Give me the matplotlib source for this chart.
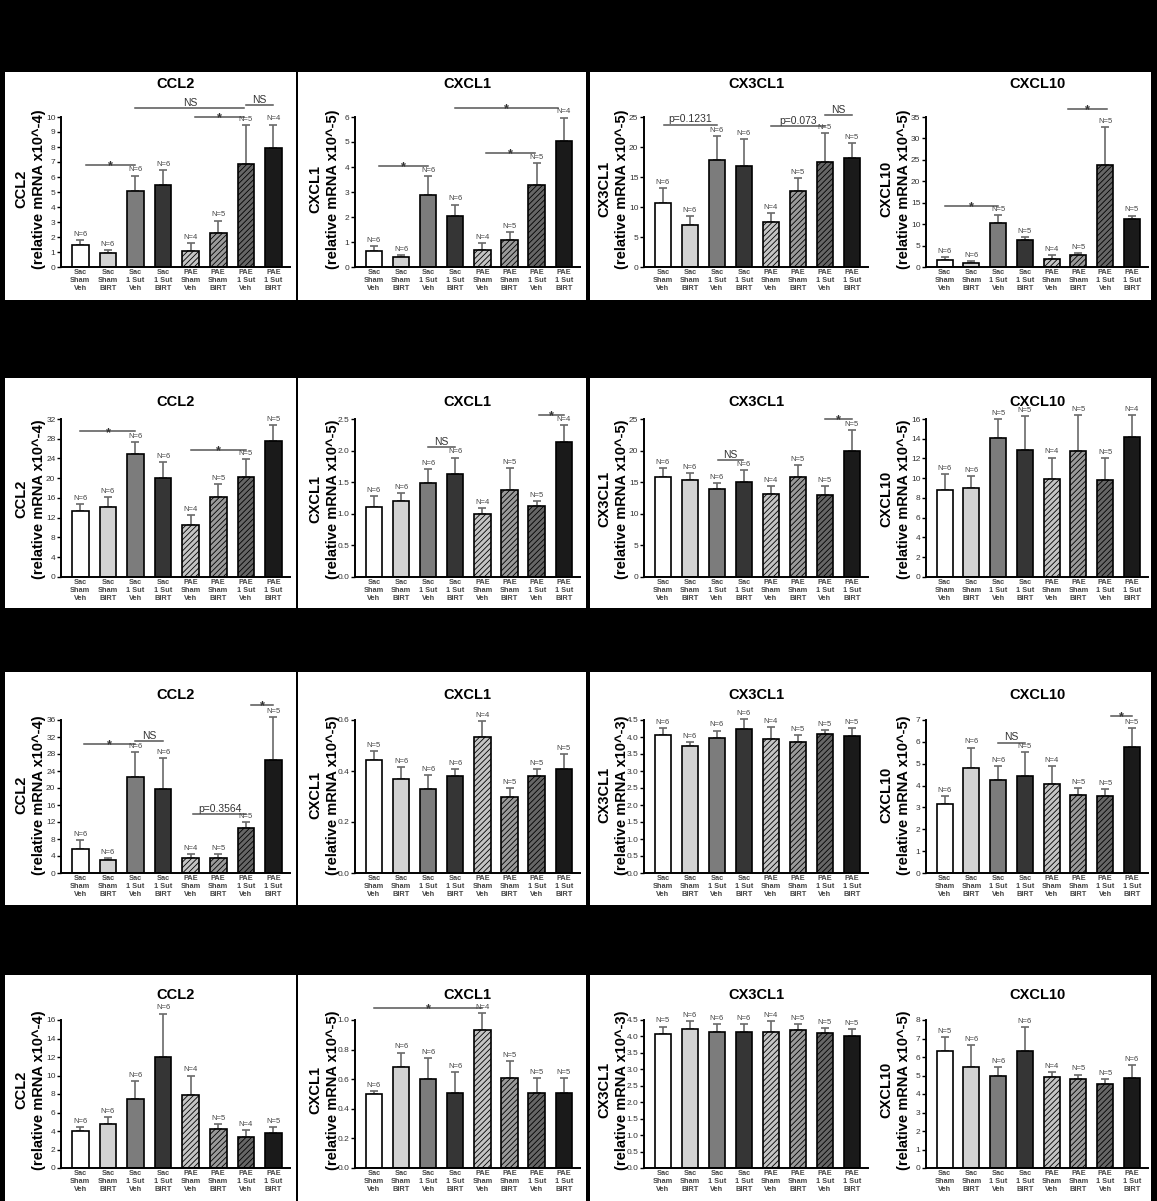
import numpy as np
import matplotlib
matplotlib.use("Agg")
import matplotlib.pyplot as plt
from matplotlib.patches import Rectangle

plt.rcParams['font.family'] = ['Liberation Sans', 'DejaVu Sans']
plt.rcParams['hatch.linewidth'] = 0.6
plt.rcParams['hatch.color'] = 'black'

groups = ["Sac\nSham\nVeh", "Sac\nSham\nBIRT", "Sac\n1 Sut\nVeh", "Sac\n1 Sut\nBIRT",
          "PAE\nSham\nVeh", "PAE\nSham\nBIRT", "PAE\n1 Sut\nVeh", "PAE\n1 Sut\nBIRT"]
genes = ["CCL2", "CXCL1", "CX3CL1", "CXCL10"]

# row 1
r1_ccl2 = [1.5, 0.95, 5.1, 5.45, 1.07, 2.3, 6.86, 7.95]
r1_ccl2_err = [0.3, 0.2, 1.0, 1.0, 0.5, 0.8, 2.6, 1.55]
r1_ccl2_n = [6, 6, 6, 6, 4, 5, 5, 4]
r1_ccl2_sig = [(0.2, 2.0, 6.8, "*"), (2.0, 5.95, 10.6, "NS"),
               (6.0, 7.0, 10.8, "NS"), (4.15, 5.95, 10.0, "*")]

r1_cxcl1 = [0.64, 0.39, 2.9, 2.05, 0.7, 1.08, 3.27, 5.03]
r1_cxcl1_err = [0.2, 0.1, 0.75, 0.45, 0.27, 0.32, 0.9, 0.95]
r1_cxcl1_n = [6, 6, 6, 6, 4, 5, 5, 4]
r1_cxcl1_sig = [(0.2, 2.0, 4.04, "*"), (4.15, 5.95, 4.58, "*"), (3.0, 6.8, 6.35, "*")]

r1_cx3cl1 = [10.6, 6.95, 17.9, 16.8, 7.5, 12.6, 17.5, 18.2]
r1_cx3cl1_err = [2.5, 1.6, 4.0, 4.6, 1.5, 2.3, 4.8, 2.4]
r1_cx3cl1_n = [6, 6, 6, 6, 4, 5, 5, 5]
r1_cx3cl1_sig = [(0.05, 2.0, 23.7, "p=0.1231"), (4.0, 6.0, 23.5, "p=0.073"),
                 (6.0, 7.0, 25.3, "NS")]

r1_cxcl10 = [1.66, 1.05, 10.3, 6.33, 1.8, 2.8, 23.7, 11.2]
r1_cxcl10_err = [0.6, 0.4, 1.8, 0.6, 1.0, 0.5, 9.0, 0.8]
r1_cxcl10_n = [6, 6, 5, 5, 4, 5, 5, 5]
r1_cxcl10_sig = [(0.0, 2.0, 14.3, "*"), (4.6, 6.05, 36.9, "*")]

# row 2
r2_ccl2 = [13.3, 14.15, 24.9, 20.1, 10.6, 16.3, 20.35, 27.6]
r2_ccl2_err = [1.5, 2.0, 2.4, 3.1, 1.9, 2.6, 3.6, 3.1]
r2_ccl2_n = [6, 6, 6, 6, 4, 5, 5, 5]
r2_ccl2_sig = [(0.0, 2.0, 29.5, "*"), (4.0, 6.0, 25.7, "*")]

r2_cxcl1 = [1.11, 1.2, 1.49, 1.63, 1.0, 1.37, 1.13, 2.13]
r2_cxcl1_err = [0.17, 0.13, 0.22, 0.26, 0.09, 0.36, 0.07, 0.27]
r2_cxcl1_n = [6, 6, 6, 6, 4, 5, 5, 4]
r2_cxcl1_sig = [(2.0, 3.0, 2.05, "NS"), (6.1, 7.0, 2.56, "*")]

r2_cx3cl1 = [15.85, 15.4, 13.9, 15.05, 13.1, 15.75, 12.9, 20.0]
r2_cx3cl1_err = [1.35, 1.0, 0.9, 1.85, 1.3, 2.0, 1.5, 3.2]
r2_cx3cl1_n = [6, 6, 6, 6, 4, 5, 5, 5]
r2_cx3cl1_sig = [(2.05, 2.95, 18.5, "NS"), (6.0, 7.0, 25.0, "*")]

r2_cxcl10 = [8.8, 9.06, 14.1, 12.84, 9.9, 12.77, 9.8, 14.2]
r2_cxcl10_err = [1.6, 1.2, 1.9, 3.5, 2.2, 3.6, 2.25, 2.2]
r2_cxcl10_n = [6, 6, 5, 5, 4, 5, 5, 4]
r2_cxcl10_sig = []

# row 3
r3_ccl2 = [5.76, 3.0, 22.6, 19.7, 3.6, 3.6, 10.65, 26.5]
r3_ccl2_err = [1.9, 0.5, 5.8, 7.4, 0.9, 0.9, 1.4, 10.2]
r3_ccl2_n = [6, 6, 6, 6, 4, 5, 5, 5]
r3_ccl2_sig = [(0.15, 1.98, 30.4, "*"), (2.0, 3.0, 31.0, "NS"),
               (4.1, 6.0, 13.8, "p=0.3564"), (6.2, 7.0, 39.6, "*")]

r3_cxcl1 = [0.442, 0.37, 0.331, 0.379, 0.532, 0.299, 0.379, 0.408]
r3_cxcl1_err = [0.036, 0.045, 0.052, 0.03, 0.065, 0.035, 0.03, 0.06]
r3_cxcl1_n = [5, 6, 6, 6, 4, 5, 5, 5]
r3_cxcl1_sig = []

r3_cx3cl1 = [4.06, 3.73, 3.97, 4.24, 3.94, 3.86, 4.09, 4.04]
r3_cx3cl1_err = [0.2, 0.12, 0.22, 0.28, 0.36, 0.2, 0.12, 0.23]
r3_cx3cl1_n = [6, 6, 6, 6, 4, 5, 5, 5]
r3_cx3cl1_sig = []

r3_cxcl10 = [3.17, 4.82, 4.27, 4.46, 4.08, 3.56, 3.53, 5.77]
r3_cxcl10_err = [0.36, 0.92, 0.62, 1.06, 0.81, 0.34, 0.3, 0.86]
r3_cxcl10_n = [6, 6, 6, 5, 4, 5, 5, 5]
r3_cxcl10_sig = [(2.0, 3.0, 5.96, "NS"), (6.2, 7.0, 7.2, "*")]

# row 4
r4_ccl2 = [4.0, 4.8, 7.5, 12.0, 7.9, 4.2, 3.4, 3.8]
r4_ccl2_err = [0.4, 0.7, 1.9, 4.7, 2.1, 0.6, 0.7, 0.6]
r4_ccl2_n = [6, 6, 6, 6, 4, 5, 4, 5]
r4_ccl2_sig = []

r4_cxcl1 = [0.5, 0.68, 0.6, 0.51, 0.93, 0.61, 0.51, 0.51]
r4_cxcl1_err = [0.02, 0.1, 0.14, 0.14, 0.12, 0.11, 0.1, 0.1]
r4_cxcl1_n = [6, 6, 6, 6, 4, 5, 5, 5]
r4_cxcl1_sig = [(0.0, 4.0, 1.08, "*")]

r4_cx3cl1 = [4.08, 4.23, 4.14, 4.14, 4.14, 4.2, 4.11, 4.02]
r4_cx3cl1_err = [0.22, 0.24, 0.24, 0.24, 0.33, 0.18, 0.15, 0.21]
r4_cx3cl1_n = [5, 6, 6, 6, 4, 5, 5, 5]
r4_cx3cl1_sig = []

r4_cxcl10 = [6.3, 5.45, 5.0, 6.34, 4.9, 4.8, 4.54, 4.85]
r4_cxcl10_err = [0.8, 1.2, 0.46, 1.26, 0.3, 0.25, 0.26, 0.7]
r4_cxcl10_n = [5, 6, 6, 6, 4, 5, 5, 6]
r4_cxcl10_sig = []

# y axis: top tick, tick step, exponent in the label
r1_axes = [(10, 1, "-4"), (6, 1, "-5"), (25, 5, "-5"), (35, 5, "-5")]
r2_axes = [(32, 4, "-4"), (2.5, 0.5, "-5"), (25, 5, "-5"), (16, 2, "-5")]
r3_axes = [(36, 4, "-4"), (0.6, 0.2, "-5"), (4.5, 0.5, "-3"), (7, 1, "-5")]
r4_axes = [(16, 2, "-4"), (1.0, 0.2, "-5"), (4.5, 0.5, "-3"), (8, 1, "-5")]

rows = [
    [(r1_ccl2, r1_ccl2_err, r1_ccl2_n, r1_ccl2_sig),
     (r1_cxcl1, r1_cxcl1_err, r1_cxcl1_n, r1_cxcl1_sig),
     (r1_cx3cl1, r1_cx3cl1_err, r1_cx3cl1_n, r1_cx3cl1_sig),
     (r1_cxcl10, r1_cxcl10_err, r1_cxcl10_n, r1_cxcl10_sig)],
    [(r2_ccl2, r2_ccl2_err, r2_ccl2_n, r2_ccl2_sig),
     (r2_cxcl1, r2_cxcl1_err, r2_cxcl1_n, r2_cxcl1_sig),
     (r2_cx3cl1, r2_cx3cl1_err, r2_cx3cl1_n, r2_cx3cl1_sig),
     (r2_cxcl10, r2_cxcl10_err, r2_cxcl10_n, r2_cxcl10_sig)],
    [(r3_ccl2, r3_ccl2_err, r3_ccl2_n, r3_ccl2_sig),
     (r3_cxcl1, r3_cxcl1_err, r3_cxcl1_n, r3_cxcl1_sig),
     (r3_cx3cl1, r3_cx3cl1_err, r3_cx3cl1_n, r3_cx3cl1_sig),
     (r3_cxcl10, r3_cxcl10_err, r3_cxcl10_n, r3_cxcl10_sig)],
    [(r4_ccl2, r4_ccl2_err, r4_ccl2_n, r4_ccl2_sig),
     (r4_cxcl1, r4_cxcl1_err, r4_cxcl1_n, r4_cxcl1_sig),
     (r4_cx3cl1, r4_cx3cl1_err, r4_cx3cl1_n, r4_cx3cl1_sig),
     (r4_cxcl10, r4_cxcl10_err, r4_cxcl10_n, r4_cxcl10_sig)],
]
row_axes = [r1_axes, r2_axes, r3_axes, r4_axes]

bar_faces = ["white", "#d2d2d2", "#7c7c7c", "#353535",
             "#c4c4c4", "#9a9a9a", "#666666", "#1a1a1a"]
bar_hatch = [None, None, None, None, "//////", "//////", "//////", None]

# layout in pixels
W, H = 1157, 1201
col_x = [(61, 290), (355, 580), (644, 868), (926, 1148)]
row_y0 = [267, 577, 873, 1168]
row_tick = [150, 158, 153, 148]
row_title = [183, 175, 178, 173]
row_white = [(72, 300), (378, 608), (672, 905), (975, 1201)]
col_white = [(5, 296), (298, 586), (590, 1151)]
AX_H = 182

fig = plt.figure(figsize=(W / 100, H / 100), dpi=100, facecolor="black")

for (wy0, wy1) in row_white:
    for (wx0, wx1) in col_white:
        fig.add_artist(Rectangle((wx0 / W, 1 - wy1 / H), (wx1 - wx0) / W, (wy1 - wy0) / H,
                                 transform=fig.transFigure, facecolor="white",
                                 edgecolor="none", zorder=-1))

x = np.arange(8)
for r, row in enumerate(rows):
    y0 = row_y0[r]
    for c, (mean, err, n, sig) in enumerate(row):
        x0, x1 = col_x[c]
        ax = fig.add_axes([x0 / W, 1 - y0 / H, (x1 - x0) / W, AX_H / H])
        ax.set_facecolor("none")
        ytop, step, expo = row_axes[r][c]

        ax.errorbar(x, mean, yerr=[np.zeros(8), err], fmt="none", ecolor="#6a6a6a",
                    elinewidth=1.2, capsize=3, capthick=1.2, zorder=1)
        ax.bar(x, mean, width=0.6, color=bar_faces, edgecolor="black",
               linewidth=1.2, hatch=bar_hatch, zorder=2)

        for i in range(8):
            ax.annotate(f"N={n[i]}", (i, mean[i] + err[i]), xytext=(0, 1.5),
                        textcoords="offset points", ha="center", va="bottom",
                        fontsize=5.5, color="#444444", annotation_clip=False)

        for (sa, sb, sy, label) in sig:
            ax.plot([sa, sb], [sy, sy], color="#555555", lw=1.1, clip_on=False)
            if label == "*":
                ax.annotate("*", ((sa + sb) / 2, sy), xytext=(0, -1.0),
                            textcoords="offset points", ha="center", va="center",
                            fontsize=9, fontweight="bold", color="#333333",
                            annotation_clip=False)
            else:
                ax.annotate(label, ((sa + sb) / 2, sy), xytext=(0, 0.3),
                            textcoords="offset points", ha="center", va="bottom",
                            fontsize=7.5, color="#333333", annotation_clip=False)

        ax.set_xlim(-0.7, 7.6)
        ax.set_ylim(0, ytop * AX_H / row_tick[r])
        ticks = np.arange(0, ytop + step / 2, step)
        ax.set_yticks(ticks)
        if step < 1:
            ax.set_yticklabels([f"{t:.1f}" for t in ticks])
        else:
            ax.set_yticklabels([f"{t:g}" for t in ticks])
        ax.spines["left"].set_bounds(0, ytop)
        ax.spines["top"].set_visible(False)
        ax.spines["right"].set_visible(False)
        ax.spines["left"].set_linewidth(1.4)
        ax.spines["bottom"].set_linewidth(1.4)
        ax.tick_params(axis="y", length=3, width=1, labelsize=6, pad=1,
                       labelcolor="#333333")
        ax.set_xticks(x)
        ax.set_xticklabels(groups, fontsize=5.3, fontweight="bold", color="#444444",
                           linespacing=1.15)
        ax.tick_params(axis="x", length=0, pad=1.5)

        ax.set_ylabel(f"{genes[c]}\n(relative mRNA x10^{expo})", fontsize=10.5,
                      fontweight="bold", linespacing=1.3)
        ax.yaxis.set_label_coords(-15 / (x1 - x0), 78 / AX_H)
        ax.text(0.5, row_title[r] / AX_H, genes[c], transform=ax.transAxes, ha="center",
                va="center", fontsize=10.5, fontweight="bold")

fig.savefig("out.png", dpi=100, facecolor="black")
